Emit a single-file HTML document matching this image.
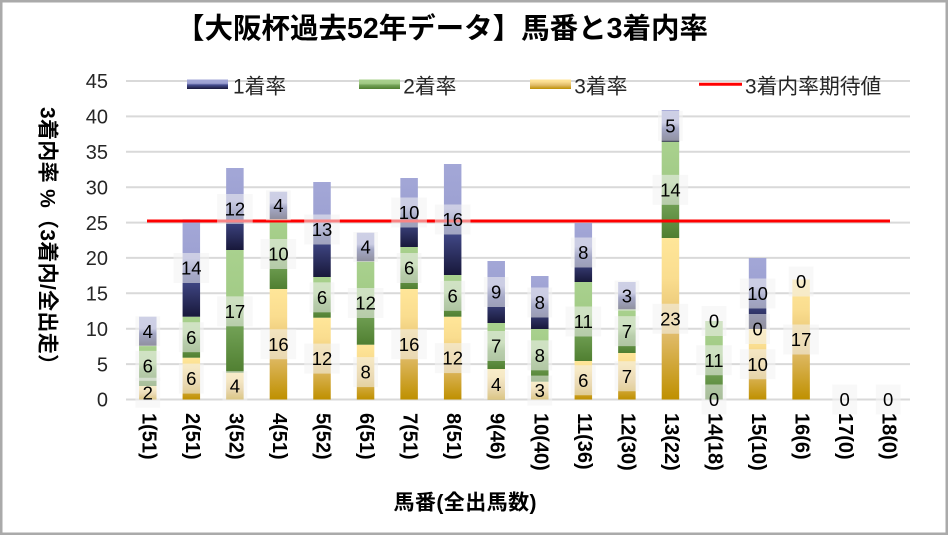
<!DOCTYPE html>
<html><head><meta charset="utf-8"><style>
html,body{margin:0;padding:0;background:#fff}
svg{display:block}
text{font-family:"Liberation Sans","Noto Sans CJK JP",sans-serif}
</style></head><body>
<svg width="949" height="535" viewBox="0 0 949 535" xmlns="http://www.w3.org/2000/svg">
<defs>
<linearGradient id="yel" x1="0" y1="0" x2="0" y2="1">
<stop offset="0" stop-color="#FFE699"/><stop offset="0.25" stop-color="#FADD8F"/><stop offset="0.6" stop-color="#E0BB68"/><stop offset="1" stop-color="#BF9000"/>
</linearGradient>
<linearGradient id="grn" x1="0" y1="0" x2="0" y2="1">
<stop offset="0" stop-color="#A9D18E"/><stop offset="0.42" stop-color="#A2CB86"/><stop offset="0.6" stop-color="#74A358"/><stop offset="1" stop-color="#507F31"/>
</linearGradient>
<linearGradient id="blu" x1="0" y1="0" x2="0" y2="1">
<stop offset="0" stop-color="#A3A7D7"/><stop offset="0.4" stop-color="#9DA1D2"/><stop offset="0.58" stop-color="#464E90"/><stop offset="1" stop-color="#18183A"/>
</linearGradient>
</defs>
<rect x="1.25" y="1.25" width="945.5" height="532.5" fill="#fff" stroke="#AAAAAA" stroke-width="2.5"/>

<!-- title -->
<text x="176" y="37.8" font-size="28.5" font-weight="bold" fill="#000" textLength="532" lengthAdjust="spacing">【大阪杯過去52年データ】馬番と3着内率</text>

<!-- gridlines -->
<g stroke="#D9D9D9" stroke-width="2">
<line x1="126" x2="910" y1="81" y2="81"/>
<line x1="126" x2="910" y1="116.4" y2="116.4"/>
<line x1="126" x2="910" y1="151.8" y2="151.8"/>
<line x1="126" x2="910" y1="187.2" y2="187.2"/>
<line x1="126" x2="910" y1="222.6" y2="222.6"/>
<line x1="126" x2="910" y1="257.9" y2="257.9"/>
<line x1="126" x2="910" y1="293.3" y2="293.3"/>
<line x1="126" x2="910" y1="328.7" y2="328.7"/>
<line x1="126" x2="910" y1="364.1" y2="364.1"/>
<line x1="126" x2="910" y1="399.5" y2="399.5"/>
</g>

<!-- y tick labels -->
<g font-size="20" fill="#262626" text-anchor="end">
<text x="108" y="88.2">45</text>
<text x="108" y="123.6">40</text>
<text x="108" y="159">35</text>
<text x="108" y="194.4">30</text>
<text x="108" y="229.8">25</text>
<text x="108" y="265.1">20</text>
<text x="108" y="300.5">15</text>
<text x="108" y="335.9">10</text>
<text x="108" y="371.3">5</text>
<text x="108" y="406.7">0</text>
</g>

<!-- legend -->
<rect x="187" y="79.5" width="41" height="9.5" fill="url(#blu)"/>
<text x="233" y="93.4" font-size="20.8" fill="#262626">1着率</text>
<rect x="359" y="79.5" width="41" height="9.5" fill="url(#grn)"/>
<text x="403.3" y="93.4" font-size="20.8" fill="#262626">2着率</text>
<rect x="530" y="79.5" width="41" height="9.5" fill="url(#yel)"/>
<text x="574.3" y="93.4" font-size="20.8" fill="#262626">3着率</text>
<line x1="699" x2="742" y1="84.3" y2="84.3" stroke="#FF0000" stroke-width="3"/>
<text x="745" y="93.4" font-size="20.8" fill="#262626">3着内率期待値</text>

<!-- bars -->
<g>
<rect x="139.03" y="386" width="17.5" height="13.5" fill="url(#yel)"/>
<rect x="139.03" y="345.7" width="17.5" height="40.3" fill="url(#grn)"/>
<rect x="139.03" y="316.7" width="17.5" height="29" fill="url(#blu)"/>
<rect x="182.58" y="357.7" width="17.5" height="41.8" fill="url(#yel)"/>
<rect x="182.58" y="316.7" width="17.5" height="41" fill="url(#grn)"/>
<rect x="182.58" y="219.3" width="17.5" height="97.4" fill="url(#blu)"/>
<rect x="226.14" y="372.7" width="17.5" height="26.8" fill="url(#yel)"/>
<rect x="226.14" y="250" width="17.5" height="122.7" fill="url(#grn)"/>
<rect x="226.14" y="168" width="17.5" height="82" fill="url(#blu)"/>
<rect x="269.69" y="289" width="17.5" height="110.5" fill="url(#yel)"/>
<rect x="269.69" y="219" width="17.5" height="70" fill="url(#grn)"/>
<rect x="269.69" y="191.7" width="17.5" height="27.3" fill="url(#blu)"/>
<rect x="313.25" y="317.7" width="17.5" height="81.8" fill="url(#yel)"/>
<rect x="313.25" y="277" width="17.5" height="40.7" fill="url(#grn)"/>
<rect x="313.25" y="182" width="17.5" height="95" fill="url(#blu)"/>
<rect x="356.81" y="344.7" width="17.5" height="54.8" fill="url(#yel)"/>
<rect x="356.81" y="261.3" width="17.5" height="83.4" fill="url(#grn)"/>
<rect x="356.81" y="232.7" width="17.5" height="28.6" fill="url(#blu)"/>
<rect x="400.36" y="289" width="17.5" height="110.5" fill="url(#yel)"/>
<rect x="400.36" y="247" width="17.5" height="42" fill="url(#grn)"/>
<rect x="400.36" y="178" width="17.5" height="69" fill="url(#blu)"/>
<rect x="443.92" y="316.7" width="17.5" height="82.8" fill="url(#yel)"/>
<rect x="443.92" y="275" width="17.5" height="41.7" fill="url(#grn)"/>
<rect x="443.92" y="164" width="17.5" height="111" fill="url(#blu)"/>
<rect x="487.47" y="369" width="17.5" height="30.5" fill="url(#yel)"/>
<rect x="487.47" y="323" width="17.5" height="46" fill="url(#grn)"/>
<rect x="487.47" y="261" width="17.5" height="62" fill="url(#blu)"/>
<rect x="531.03" y="381.7" width="17.5" height="17.8" fill="url(#yel)"/>
<rect x="531.03" y="329" width="17.5" height="52.7" fill="url(#grn)"/>
<rect x="531.03" y="276" width="17.5" height="53" fill="url(#blu)"/>
<rect x="574.58" y="361" width="17.5" height="38.5" fill="url(#yel)"/>
<rect x="574.58" y="282" width="17.5" height="79" fill="url(#grn)"/>
<rect x="574.58" y="223" width="17.5" height="59" fill="url(#blu)"/>
<rect x="618.14" y="353" width="17.5" height="46.5" fill="url(#yel)"/>
<rect x="618.14" y="309.3" width="17.5" height="43.7" fill="url(#grn)"/>
<rect x="618.14" y="282" width="17.5" height="27.3" fill="url(#blu)"/>
<rect x="661.69" y="238" width="17.5" height="161.5" fill="url(#yel)"/>
<rect x="661.69" y="141.7" width="17.5" height="96.3" fill="url(#grn)"/>
<rect x="661.69" y="110" width="17.5" height="31.7" fill="url(#blu)"/>
<rect x="705.25" y="321" width="17.5" height="78.5" fill="url(#grn)"/>
<rect x="748.81" y="329" width="17.5" height="70.5" fill="url(#yel)"/>
<rect x="748.81" y="258" width="17.5" height="71" fill="url(#blu)"/>
<rect x="792.36" y="279.5" width="17.5" height="120" fill="url(#yel)"/>
</g>

<!-- expectation line -->
<line x1="147" x2="890" y1="221" y2="221" stroke="#FF0000" stroke-width="3"/>

<!-- data labels -->
<g font-size="18.5" fill="#000" text-anchor="middle">
<g fill="#F2F2F2" fill-opacity="0.55">
<rect x="135.4" y="377.75" width="24.8" height="30"/>
<rect x="135.4" y="350.85" width="24.8" height="30"/>
<rect x="135.4" y="316.2" width="24.8" height="30"/>
<rect x="178.9" y="363.6" width="24.8" height="30"/>
<rect x="178.9" y="322.2" width="24.8" height="30"/>
<rect x="173.5" y="253" width="35.6" height="30"/>
<rect x="222.5" y="371.1" width="24.8" height="30"/>
<rect x="217.1" y="296.35" width="35.6" height="30"/>
<rect x="217.1" y="194" width="35.6" height="30"/>
<rect x="260.6" y="329.25" width="35.6" height="30"/>
<rect x="260.6" y="239" width="35.6" height="30"/>
<rect x="266" y="190.35" width="24.8" height="30"/>
<rect x="304.2" y="343.6" width="35.6" height="30"/>
<rect x="309.6" y="282.35" width="24.8" height="30"/>
<rect x="304.2" y="214.5" width="35.6" height="30"/>
<rect x="353.2" y="357.1" width="24.8" height="30"/>
<rect x="347.8" y="288" width="35.6" height="30"/>
<rect x="353.2" y="232" width="24.8" height="30"/>
<rect x="391.3" y="329.25" width="35.6" height="30"/>
<rect x="396.7" y="253" width="24.8" height="30"/>
<rect x="391.3" y="197.5" width="35.6" height="30"/>
<rect x="434.9" y="343.1" width="35.6" height="30"/>
<rect x="440.3" y="280.85" width="24.8" height="30"/>
<rect x="434.9" y="204.5" width="35.6" height="30"/>
<rect x="483.8" y="369.25" width="24.8" height="30"/>
<rect x="483.8" y="331" width="24.8" height="30"/>
<rect x="483.8" y="277" width="24.8" height="30"/>
<rect x="527.4" y="375.6" width="24.8" height="30"/>
<rect x="527.4" y="340.35" width="24.8" height="30"/>
<rect x="527.4" y="287.5" width="24.8" height="30"/>
<rect x="570.9" y="365.25" width="24.8" height="30"/>
<rect x="565.5" y="306.5" width="35.6" height="30"/>
<rect x="570.9" y="237.5" width="24.8" height="30"/>
<rect x="614.5" y="361.25" width="24.8" height="30"/>
<rect x="614.5" y="316.15" width="24.8" height="30"/>
<rect x="614.5" y="280.65" width="24.8" height="30"/>
<rect x="652.6" y="303.75" width="35.6" height="30"/>
<rect x="652.6" y="174.85" width="35.6" height="30"/>
<rect x="658" y="110.85" width="24.8" height="30"/>
<rect x="701.6" y="384.5" width="24.8" height="30"/>
<rect x="696.2" y="345.25" width="35.6" height="30"/>
<rect x="701.6" y="306" width="24.8" height="30"/>
<rect x="739.8" y="349.25" width="35.6" height="30"/>
<rect x="745.2" y="314" width="24.8" height="30"/>
<rect x="739.8" y="278.5" width="35.6" height="30"/>
<rect x="783.3" y="324.5" width="35.6" height="30"/>
<rect x="788.7" y="266.5" width="24.8" height="30"/>
<rect x="832.3" y="384.5" width="24.8" height="30"/>
<rect x="875.8" y="384.5" width="24.8" height="30"/>
</g>
<text x="147.8" y="399.35">2</text>
<text x="147.8" y="372.45">6</text>
<text x="147.8" y="337.8">4</text>
<text x="191.3" y="385.2">6</text>
<text x="191.3" y="343.8">6</text>
<text x="191.3" y="274.6">14</text>
<text x="234.9" y="392.7">4</text>
<text x="234.9" y="317.95">17</text>
<text x="234.9" y="215.6">12</text>
<text x="278.4" y="350.85">16</text>
<text x="278.4" y="260.6">10</text>
<text x="278.4" y="211.95">4</text>
<text x="322" y="365.2">12</text>
<text x="322" y="303.95">6</text>
<text x="322" y="236.1">13</text>
<text x="365.6" y="378.7">8</text>
<text x="365.6" y="309.6">12</text>
<text x="365.6" y="253.6">4</text>
<text x="409.1" y="350.85">16</text>
<text x="409.1" y="274.6">6</text>
<text x="409.1" y="219.1">10</text>
<text x="452.7" y="364.7">12</text>
<text x="452.7" y="302.45">6</text>
<text x="452.7" y="226.1">16</text>
<text x="496.2" y="390.85">4</text>
<text x="496.2" y="352.6">7</text>
<text x="496.2" y="298.6">9</text>
<text x="539.8" y="397.2">3</text>
<text x="539.8" y="361.95">8</text>
<text x="539.8" y="309.1">8</text>
<text x="583.3" y="386.85">6</text>
<text x="583.3" y="328.1">11</text>
<text x="583.3" y="259.1">8</text>
<text x="626.9" y="382.85">7</text>
<text x="626.9" y="337.75">7</text>
<text x="626.9" y="302.25">3</text>
<text x="670.4" y="325.35">23</text>
<text x="670.4" y="196.45">14</text>
<text x="670.4" y="132.45">5</text>
<text x="714" y="406.1">0</text>
<text x="714" y="366.85">11</text>
<text x="714" y="327.6">0</text>
<text x="757.6" y="370.85">10</text>
<text x="757.6" y="335.6">0</text>
<text x="757.6" y="300.1">10</text>
<text x="801.1" y="346.1">17</text>
<text x="801.1" y="288.1">0</text>
<text x="844.7" y="406.1">0</text>
<text x="888.2" y="406.1">0</text>
</g>

<!-- x labels -->
<g font-size="20" font-weight="bold" fill="#000">
<text transform="translate(142.3,413) rotate(90)">1(51)</text>
<text transform="translate(185.8,413) rotate(90)">2(51)</text>
<text transform="translate(229.4,413) rotate(90)">3(52)</text>
<text transform="translate(272.9,413) rotate(90)">4(51)</text>
<text transform="translate(316.5,413) rotate(90)">5(52)</text>
<text transform="translate(360.1,413) rotate(90)">6(51)</text>
<text transform="translate(403.6,413) rotate(90)">7(51)</text>
<text transform="translate(447.2,413) rotate(90)">8(51)</text>
<text transform="translate(490.7,413) rotate(90)">9(46)</text>
<text transform="translate(534.3,413) rotate(90)">10(40)</text>
<text transform="translate(577.8,413) rotate(90)">11(36)</text>
<text transform="translate(621.4,413) rotate(90)">12(30)</text>
<text transform="translate(664.9,413) rotate(90)">13(22)</text>
<text transform="translate(708.5,413) rotate(90)">14(18)</text>
<text transform="translate(752.1,413) rotate(90)">15(10)</text>
<text transform="translate(795.6,413) rotate(90)">16(6)</text>
<text transform="translate(839.2,413) rotate(90)">17(0)</text>
<text transform="translate(882.7,413) rotate(90)">18(0)</text>
</g>

<!-- axis titles -->
<text x="465" y="509.7" font-size="21" font-weight="bold" fill="#000" text-anchor="middle" textLength="143" lengthAdjust="spacing">馬番(全出馬数)</text>
<text transform="translate(40.5,241) rotate(90)" font-size="21" font-weight="bold" fill="#000" text-anchor="middle" textLength="268" lengthAdjust="spacing">3着内率 %（3着内/全出走）</text>
</svg>
</body></html>
